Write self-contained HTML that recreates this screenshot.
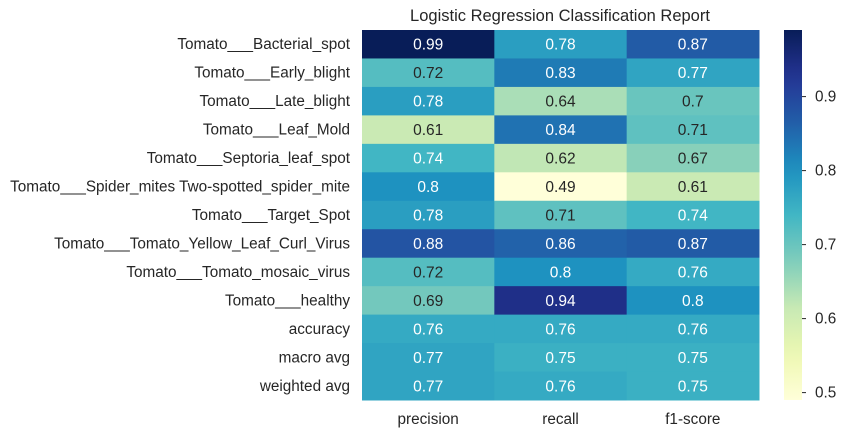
<!DOCTYPE html>
<html><head><meta charset="utf-8"><style>
body{margin:0;background:#fff;}
svg{font-family:"Liberation Sans","DejaVu Sans",sans-serif;}
</style></head><body>
<svg id="chart" width="846" height="437" xmlns="http://www.w3.org/2000/svg">
<text x="560" y="21" font-size="16.5" fill="#262626" text-anchor="middle">Logistic Regression Classification Report</text>
<g id="cells"></g><g id="ylabels"></g><g id="xlabels"></g><g id="cbar"></g>
</svg>
<script>
const rows=["Tomato___Bacterial_spot","Tomato___Early_blight","Tomato___Late_blight","Tomato___Leaf_Mold","Tomato___Septoria_leaf_spot","Tomato___Spider_mites Two-spotted_spider_mite","Tomato___Target_Spot","Tomato___Tomato_Yellow_Leaf_Curl_Virus","Tomato___Tomato_mosaic_virus","Tomato___healthy","accuracy","macro avg","weighted avg"];
const cols=["precision","recall","f1-score"];
const precision=[0.99,0.72,0.78,0.61,0.74,0.8,0.78,0.88,0.72,0.69,0.76,0.77,0.77];
const recall=[0.78,0.83,0.64,0.84,0.62,0.49,0.71,0.86,0.8,0.94,0.76,0.75,0.76];
const f1score=[0.87,0.77,0.7,0.71,0.67,0.61,0.74,0.87,0.76,0.8,0.76,0.75,0.75];
const cbTicks=[0.5,0.6,0.7,0.8,0.9];
const series=[precision,recall,f1score];
const NS="http://www.w3.org/2000/svg";
const X0=362,X1=759,Y0=30,Y1=400;
const all=series.flat();const vmin=Math.min(...all),vmax=Math.max(...all);
const stops=["#ffffd9","#edf8b1","#c7e9b4","#7fcdbb","#41b6c4","#1d91c0","#225ea8","#253494","#081d58"].map(h=>[1,3,5].map(i=>parseInt(h.substr(i,2),16)));
function cmap(v){let t=(v-vmin)/(vmax-vmin);t=Math.max(0,Math.min(1,t))*8;let i=Math.min(7,Math.floor(t)),f=t-i;return stops[i].map((c,k)=>Math.round(c+(stops[i+1][k]-c)*f));}
const cw=(X1-X0)/cols.length,rh=(Y1-Y0)/rows.length;
function mk(tag,attrs,parent){const e=document.createElementNS(NS,tag);for(const k in attrs)e.setAttribute(k,attrs[k]);parent.appendChild(e);return e;}
const gC=document.getElementById('cells'),gY=document.getElementById('ylabels'),gX=document.getElementById('xlabels'),gB=document.getElementById('cbar');
series.forEach((s,j)=>{s.forEach((v,i)=>{const c=cmap(v);
const r=mk('rect',{x:X0+j*cw,y:Y0+i*rh,width:cw+0.5,height:rh+0.5,fill:`rgb(${c})`},gC);


const dark=(v-vmin)/(vmax-vmin)<0.48;
const t=mk('text',{x:X0+(j+0.5)*cw,y:Y0+(i+0.5)*rh+5.5,'font-size':15.5,'text-anchor':'middle',fill:dark?'#262626':'#ffffff'},gC);
t.textContent=String(v);


});});
rows.forEach((n,i)=>{const t=mk('text',{x:350,y:Y0+(i+0.5)*rh+5,'font-size':15.3,'text-anchor':'end',fill:'#262626'},gY);t.textContent=n;

});
cols.forEach((n,j)=>{const t=mk('text',{x:X0+(j+0.5)*cw,y:424,'font-size':15.3,'text-anchor':'middle',fill:'#262626'},gX);t.textContent=n;

});
const defs=mk('defs',{},gB);const lg=mk('linearGradient',{id:'cg',x1:0,y1:1,x2:0,y2:0},defs);
for(let k=0;k<=20;k++){const v=vmin+(vmax-vmin)*k/20;mk('stop',{offset:k/20,'stop-color':`rgb(${cmap(v)})`},lg);}
const cb=mk('rect',{x:784,y:Y0,width:18,height:Y1-Y0,fill:'url(#cg)'},gB);


const cy=v=>Y1-(v-vmin)/(vmax-vmin)*(Y1-Y0);
cbTicks.forEach(v=>{const y=cy(v);mk('line',{x1:802,x2:806,y1:y,y2:y,stroke:'#262626','stroke-width':1},gB);
const t=mk('text',{x:815,y:y+5,'font-size':15.3,fill:'#262626'},gB);t.textContent=v.toFixed(1);

});
</script>
</body></html>
